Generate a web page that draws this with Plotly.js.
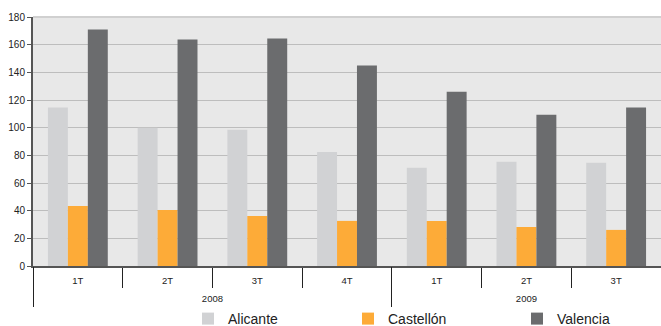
<!DOCTYPE html>
<html>
<head>
<meta charset="utf-8">
<script src="https://cdn.plot.ly/plotly-3.0.1.min.js"></script>
<style>
  html, body { margin: 0; padding: 0; background: #fff; }
  #chart { width: 661px; height: 326px; }
</style>
</head>
<body>
<div id="chart"></div>
<script>
// Quarterly figures by province, 2008–2009
const quarters = ['1T', '2T', '3T', '4T', '1T', '2T', '3T'];
const years    = ['2008', '2009'];
const quartersPerYear = [4, 3];

const alicante  = [114.5, 100, 98.5, 82.5, 71, 75.3, 74.6];
const castellon = [43.4, 40.5, 36.2, 32.6, 32.6, 28.2, 26.1];
const valencia  = [171, 163.8, 164.5, 145, 126, 109.3, 114.5];

// one slot per quarter along the x axis
const slots = quarters.map((_, i) => i);
const lastSlot = slots.length - 1;

// year label at the middle of its quarters, dividers at the year boundaries
const yearCenters = [];
const yearEdges = [-0.5];
let start = 0;
quartersPerYear.forEach(n => {
  yearCenters.push(start + (n - 1) / 2);
  start += n;
  yearEdges.push(start - 0.5);
});

function series(name, values, color, legendId) {
  return {
    type: 'bar',
    name: name,
    x: slots,
    y: values,
    legend: legendId,
    marker: { color: color, line: { width: 0 } },
    hoverinfo: 'skip'
  };
}

const data = [
  series('Alicante', alicante, '#d1d2d4', 'legend'),
  series('Castellón', castellon, '#fdab38', 'legend2'),
  series('Valencia', valencia, '#6b6c6e', 'legend3'),
  // empty carrier so the year axis gets drawn
  {
    type: 'scatter',
    mode: 'markers',
    x: yearCenters,
    y: years.map(() => null),
    xaxis: 'x2',
    showlegend: false,
    hoverinfo: 'skip'
  }
];

function legendAt(px) {
  return {
    xref: 'container', yref: 'container',
    x: px / 661, xanchor: 'left',
    y: (326 - 319) / 326, yanchor: 'middle',
    orientation: 'h',
    font: { size: 14, color: '#222', family: 'Liberation Sans, Arial, sans-serif' },
    itemwidth: 30,
    borderwidth: 0,
    bgcolor: 'rgba(0,0,0,0)'
  };
}

const xRange = [-0.5, lastSlot + 0.5];

const layout = {
  width: 661,
  height: 326,
  margin: { l: 33, r: 0, t: 17, b: 60, autoexpand: false },
  paper_bgcolor: '#ffffff',
  plot_bgcolor: '#e8e8e8',
  font: { family: 'Liberation Sans, Arial, sans-serif', color: '#222', size: 10 },
  barmode: 'group',
  bargap: 0.333,
  bargroupgap: 0,
  showlegend: true,
  legend: legendAt(188),
  legend2: legendAt(348),
  legend3: legendAt(517),
  xaxis: {
    range: xRange,
    tickmode: 'array',
    tickvals: slots,
    ticktext: quarters,
    ticks: '',
    ticklabelstandoff: 5,
    tickfont: { size: 9.5, color: '#222' },
    showline: true,
    linecolor: '#555',
    linewidth: 2,
    showgrid: false,
    zeroline: false,
    minor: {
      tickmode: 'linear',
      tick0: -0.5,
      dtick: 1,
      ticks: 'outside',
      ticklen: 20,
      tickcolor: '#222',
      tickwidth: 1,
      showgrid: false
    }
  },
  xaxis2: {
    overlaying: 'x',
    anchor: 'y',
    side: 'bottom',
    range: xRange,
    tickmode: 'array',
    tickvals: yearCenters,
    ticktext: years,
    ticks: '',
    ticklabelstandoff: 25,
    tickfont: { size: 9.5, color: '#222' },
    showline: false,
    showgrid: false,
    zeroline: false,
    minor: {
      tickmode: 'array',
      tickvals: yearEdges,
      ticks: 'outside',
      ticklen: 40,
      tickcolor: '#222',
      tickwidth: 1,
      showgrid: false
    }
  },
  yaxis: {
    range: [0, 180],
    tick0: 0,
    dtick: 20,
    showline: true,
    linecolor: '#555',
    linewidth: 2,
    ticks: 'outside',
    ticklen: 4,
    tickcolor: '#555',
    tickfont: { size: 10, color: '#222' },
    gridcolor: '#bdbdbd',
    gridwidth: 1,
    zeroline: false
  },
  shapes: [
    { type: 'line', xref: 'paper', yref: 'paper', x0: 0, x1: 1, y0: 1, y1: 1,
      line: { color: '#d0d0d0', width: 2 } }
  ]
};

Plotly.newPlot('chart', data, layout, { staticPlot: true, displayModeBar: false });
</script>
</body>
</html>
